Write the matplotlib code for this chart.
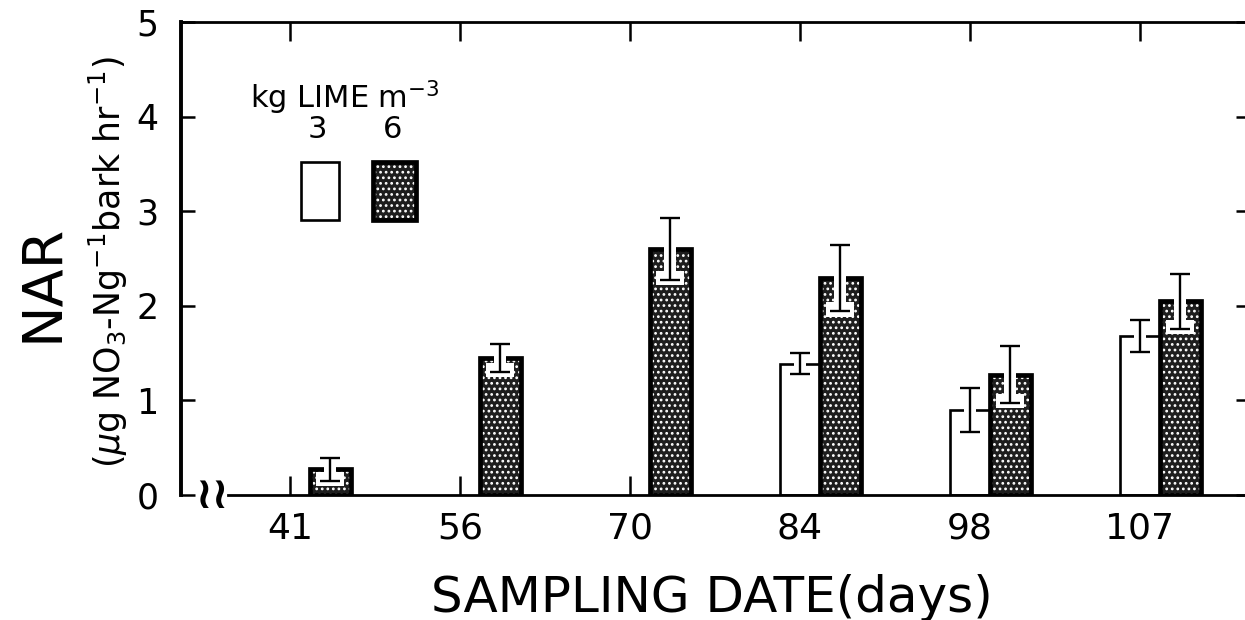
import numpy as np
import matplotlib
matplotlib.use('Agg')
from matplotlib import pyplot as plt
from matplotlib.patches import Rectangle

# NAR by sampling date, two lime rates (mean +- SE)
days = ['41', '56', '70', '84', '98', '107']
lime3 = [0.0, 0.0, 0.0, 1.39, 0.90, 1.68]
lime3_se = [0.0, 0.0, 0.0, 0.11, 0.23, 0.17]
lime6 = [0.27, 1.45, 2.60, 2.29, 1.27, 2.05]
lime6_se = [0.12, 0.15, 0.33, 0.35, 0.30, 0.29]
yticks = [0, 1, 2, 3, 4, 5]

plt.rcParams['font.family'] = 'DejaVu Sans'
plt.rcParams['hatch.linewidth'] = 1.2

fig = plt.figure(figsize=(12.45, 6.2), dpi=100)
ax = fig.add_axes([181/1245, 1-495/620, 1069/1245, 473/620])

xpos = np.arange(len(days))
w3 = 0.232
w6 = 0.243
x3 = xpos - 0.019          # centre of the 3 kg bar
x6 = xpos + 0.097 + w6/2   # centre of the 6 kg bar
dark = '#1e1e1e'

# 3 kg bars (open)
for x, v in zip(x3, lime3):
    if v > 0:
        ax.bar(x, v, width=w3, color='white', edgecolor='black', linewidth=1.9, zorder=2)

# 6 kg bars (stippled)
ax.bar(x6, lime6, width=w6, color=dark, edgecolor='white', linewidth=0,
       hatch='...', zorder=2)
ax.bar(x6, lime6, width=w6, fill=False, edgecolor='black', linewidth=3.4, zorder=3)

# white cut-outs around the lower half of each error bar
for x, v, e in zip(x6, lime6, lime6_se):
    lo = v - e
    ax.add_patch(Rectangle((x - 0.034, lo), 0.068, v - lo + 0.06,
                           facecolor='white', edgecolor='none', zorder=4))
    ax.add_patch(Rectangle((x - 0.082, lo - 0.055), 0.164, 0.15,
                           facecolor='white', edgecolor='none', zorder=4))
for x, v, e in zip(x3, lime3, lime3_se):
    if v > 0:
        ax.add_patch(Rectangle((x - 0.036, v - 0.05), 0.072, 0.1,
                               facecolor='white', edgecolor='none', zorder=4))

# error bars
m3 = np.array(lime3) > 0
ax.errorbar(x3[m3], np.array(lime3)[m3], yerr=np.array(lime3_se)[m3], fmt='none',
            ecolor='black', elinewidth=1.7, capsize=7.5, capthick=1.7, zorder=5)
ax.errorbar(x6, lime6, yerr=lime6_se, fmt='none',
            ecolor='black', elinewidth=1.7, capsize=7.5, capthick=1.7, zorder=5)

ax.set_xlim(-0.659, 5.629)
ax.set_ylim(0, 5)

ax.set_yticks(yticks)
ax.set_yticklabels([str(t) for t in yticks])
ax.set_xticks(x3)
ax.set_xticklabels(days)
ax.tick_params(axis='y', direction='in', length=10, width=1.8, left=True, right=True,
               labelsize=25, pad=16)
ax.tick_params(axis='x', direction='in', length=13.5, width=1.8, bottom=True, top=True,
               labelsize=26, pad=12)

ax.spines['left'].set_linewidth(2.8)
ax.spines['top'].set_linewidth(2.0)
ax.spines['right'].set_linewidth(2.0)
ax.spines['bottom'].set_linewidth(2.0)
ax.spines['bottom'].set_bounds(-0.382, 5.629)

# axis break mark
ax.text(-0.476, 0.0, '\u2240\u2240', ha='center', va='center', fontsize=32,
        fontweight='bold', clip_on=False)

# key
ax.text(0.0647, 0.818, r'kg LIME m$^{-3}$', transform=ax.transAxes, fontsize=22,
        ha='left', va='baseline')
ax.text(0.128, 0.772, '3', transform=ax.transAxes, fontsize=22, ha='center', va='center')
ax.text(0.198, 0.772, '6', transform=ax.transAxes, fontsize=22, ha='center', va='center')
ax.add_patch(Rectangle((0.1125, 0.581), 0.0356, 0.1226, transform=ax.transAxes,
                       facecolor='white', edgecolor='black', linewidth=1.9))
ax.add_patch(Rectangle((0.18, 0.581), 0.0394, 0.1226, transform=ax.transAxes,
                       facecolor=dark, edgecolor='white', linewidth=0, hatch='...'))
ax.add_patch(Rectangle((0.18, 0.581), 0.0394, 0.1226, transform=ax.transAxes,
                       fill=False, edgecolor='black', linewidth=3.4))

fig.text(42/1245, 1-283/620, 'NAR', rotation=90, ha='center', va='center', fontsize=40)
fig.text(108/1245, 1-262/620, r'($\mu$g NO$_3$-Ng$^{-1}$bark hr$^{-1}$)', rotation=90,
         ha='center', va='center', fontsize=25)
fig.text(712/1245, 1-598/620, 'SAMPLING DATE(days)', ha='center', va='center', fontsize=36)

fig.savefig('out.png', dpi=100)
